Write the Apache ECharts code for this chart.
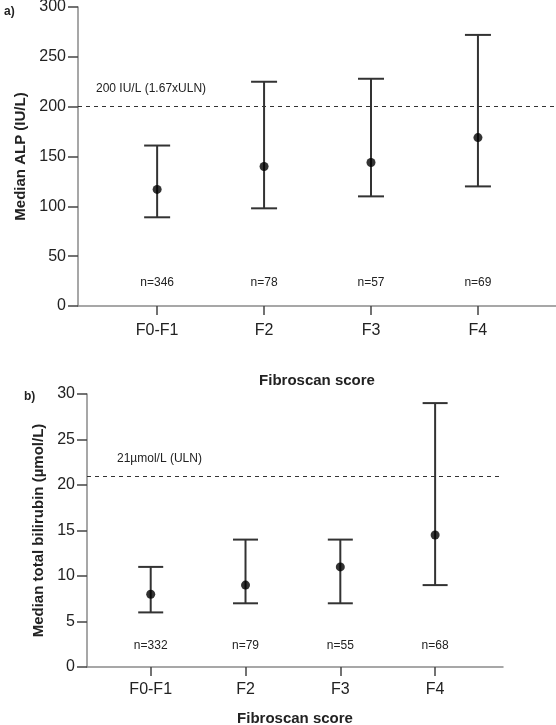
<!DOCTYPE html>
<html>
<head>
<meta charset="utf-8">
<script src="https://cdn.jsdelivr.net/npm/echarts@6/dist/echarts.min.js"></script>
<style>
html,body{margin:0;padding:0;background:#fff;}
#c{width:556px;height:725px;}
</style>
</head>
<body>
<div id="c"></div>
<script>
const categories = ['F0-F1', 'F2', 'F3', 'F4'];
const alpMedian = [117, 140, 144, 169];
const alpLow = [89, 98, 110, 120];
const alpHigh = [161, 225, 228, 272];
const alpN = [346, 78, 57, 69];
const alpRef = 200;
const alpRefLabel = '200 IU/L (1.67xULN)';

const biliMedian = [8, 9, 11, 14.5];
const biliLow = [6, 7, 7, 9];
const biliHigh = [11, 14, 14, 29];
const biliN = [332, 79, 55, 68];
const biliRef = 21;
const biliRefLabel = '21\u00b5mol/L (ULN)';

const FONT = 'Liberation Sans, Arial, sans-serif';
const INK = '#222';
const AX = '#8a8a8a';
const TICK = '#444';
const BAR = '#333';
const catPos = categories.map((c, i) => i + 1);

function errData(low, high) { return categories.map((c, i) => [i + 1, low[i], high[i]]); }
function medData(med) { return categories.map((c, i) => [i + 1, med[i]]); }
function nData(ns) { return categories.map((c, i) => [i + 1, 0, 'n=' + ns[i]]); }

function errRender(hw) {
  return function (params, api) {
    const x = api.value(0);
    const lo = api.coord([x, api.value(1)]);
    const hi = api.coord([x, api.value(2)]);
    const st = { stroke: BAR, lineWidth: 2 };
    return {
      type: 'group', children: [
        { type: 'line', shape: { x1: lo[0], y1: lo[1], x2: hi[0], y2: hi[1] }, style: st },
        { type: 'line', shape: { x1: lo[0] - hw, y1: lo[1], x2: lo[0] + hw, y2: lo[1] }, style: st },
        { type: 'line', shape: { x1: hi[0] - hw, y1: hi[1], x2: hi[0] + hw, y2: hi[1] }, style: st }
      ]
    };
  };
}
function nRender(dy) {
  return function (params, api) {
    const p = api.coord([api.value(0), 0]);
    return {
      type: 'text', x: p[0], y: p[1] - dy,
      style: { text: api.value(2), fill: INK, font: '12px ' + FONT, align: 'center', verticalAlign: 'middle' }
    };
  };
}
function refRender(txt, dx, dy) {
  return function (params, api) {
    const p = api.coord([api.value(0), api.value(1)]);
    return {
      type: 'text', x: p[0] + dx, y: p[1] - dy,
      style: { text: txt, fill: INK, font: '12px ' + FONT, align: 'left', verticalAlign: 'middle' }
    };
  };
}

function xAxisCfg(gi, min, max, labelMargin, nameGap) {
  return {
    gridIndex: gi, type: 'value', min: min, max: max,
    name: 'Fibroscan score', nameLocation: 'middle', nameGap: nameGap,
    nameTextStyle: { fontFamily: FONT, fontWeight: 'bold', fontSize: 15, color: INK },
    axisLine: { show: true, lineStyle: { color: AX, width: 1.5 } },
    axisTick: { show: true, length: 9, customValues: catPos, lineStyle: { color: TICK, width: 1.5 } },
    axisLabel: { customValues: catPos, formatter: v => categories[Math.round(v) - 1] || '', fontFamily: FONT, fontSize: 16, color: INK, margin: labelMargin },
    splitLine: { show: false }
  };
}
function yAxisCfg(gi, max, interval, name, nameGap) {
  return {
    gridIndex: gi, type: 'value', min: 0, max: max, interval: interval,
    name: name, nameLocation: 'middle', nameGap: nameGap,
    nameTextStyle: { fontFamily: FONT, fontWeight: 'bold', fontSize: 15, color: INK },
    axisLine: { show: true, lineStyle: { color: AX, width: 1.5 } },
    axisTick: { show: true, length: 10, lineStyle: { color: TICK, width: 1.5 } },
    axisLabel: { fontFamily: FONT, fontSize: 16, color: INK, margin: 12 },
    splitLine: { show: false }
  };
}

const chart = echarts.init(document.getElementById('c'), null, { renderer: 'canvas' });
chart.setOption({
  animation: false,
  backgroundColor: '#fff',
  title: [
    { text: 'a)', left: -1, top: 1, textStyle: { fontFamily: FONT, fontSize: 12, fontWeight: 'bold', color: INK } },
    { text: 'b)', left: 19, top: 386, textStyle: { fontFamily: FONT, fontSize: 12, fontWeight: 'bold', color: INK } }
  ],
  grid: [
    { left: 78, top: 7, width: 478, height: 299, containLabel: false, outerBoundsMode: 'none' },
    { left: 87, top: 394, width: 416, height: 273, containLabel: false, outerBoundsMode: 'none' }
  ],
  xAxis: [
    xAxisCfg(0, 0.26, 4.73, 17, 67),
    xAxisCfg(1, 0.328, 4.716, 15, 44)
  ],
  yAxis: [
    yAxisCfg(0, 300, 50, 'Median ALP (IU/L)', 50),
    yAxisCfg(1, 30, 5, 'Median total bilirubin (\u00b5mol/L)', 40)
  ],
  series: [
    {
      type: 'custom', xAxisIndex: 0, yAxisIndex: 0, renderItem: errRender(13),
      encode: { x: 0, y: [1, 2] }, data: errData(alpLow, alpHigh), z: 2,
      markLine: {
        silent: true, symbol: 'none', label: { show: false },
        lineStyle: { type: [4, 4], color: '#333', width: 1 },
        data: [{ yAxis: alpRef }]
      }
    },
    { type: 'scatter', xAxisIndex: 0, yAxisIndex: 0, symbol: 'circle', symbolSize: 9, itemStyle: { color: '#000' }, data: medData(alpMedian), z: 3 },
    { type: 'custom', xAxisIndex: 0, yAxisIndex: 0, renderItem: nRender(23), encode: { x: 0, y: 1 }, data: nData(alpN) },
    { type: 'custom', xAxisIndex: 0, yAxisIndex: 0, renderItem: refRender(alpRefLabel, 18, 18), encode: { x: 0, y: 1 }, data: [[0.26, alpRef]] },

    {
      type: 'custom', xAxisIndex: 1, yAxisIndex: 1, renderItem: errRender(12.5),
      encode: { x: 0, y: [1, 2] }, data: errData(biliLow, biliHigh), z: 2,
      markLine: {
        silent: true, symbol: 'none', label: { show: false },
        lineStyle: { type: [4, 4], color: '#333', width: 1 },
        data: [{ yAxis: biliRef }]
      }
    },
    { type: 'scatter', xAxisIndex: 1, yAxisIndex: 1, symbol: 'circle', symbolSize: 9, itemStyle: { color: '#000' }, data: medData(biliMedian), z: 3 },
    { type: 'custom', xAxisIndex: 1, yAxisIndex: 1, renderItem: nRender(21), encode: { x: 0, y: 1 }, data: nData(biliN) },
    { type: 'custom', xAxisIndex: 1, yAxisIndex: 1, renderItem: refRender(biliRefLabel, 30, 17), encode: { x: 0, y: 1 }, data: [[0.328, biliRef]] }
  ]
});
</script>
</body>
</html>
